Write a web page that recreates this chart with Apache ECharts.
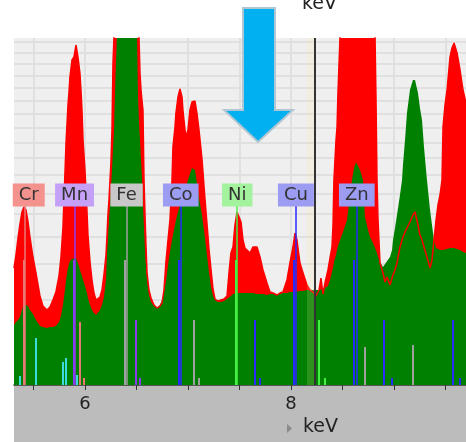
<!DOCTYPE html>
<html><head><meta charset="utf-8">
<script src="https://cdn.jsdelivr.net/npm/echarts@6/dist/echarts.min.js"></script>
<style>html,body{margin:0;padding:0;background:#fff}#c{width:466px;height:442px}</style>
</head><body><div id="c"></div>
<script>
// Energy axis (keV)
const energy = [
5.311,5.330,5.350,5.369,5.388,5.408,5.427,5.447,5.466,5.495,
5.524,5.563,5.592,5.631,5.660,5.689,5.718,5.748,5.767,5.786,
5.806,5.816,5.825,5.835,5.845,5.854,5.874,5.893,5.913,5.932,
5.951,5.961,5.971,5.981,6.000,6.019,6.029,6.049,6.068,6.087,
6.107,6.126,6.146,6.165,6.184,6.204,6.214,6.223,6.233,6.243,
6.252,6.262,6.272,6.282,6.291,6.301,6.311,6.359,6.408,6.456,
6.505,6.515,6.524,6.534,6.544,6.553,6.563,6.573,6.583,6.592,
6.602,6.621,6.641,6.670,6.699,6.728,6.748,6.767,6.786,6.806,
6.825,6.845,6.854,6.874,6.883,6.903,6.922,6.942,6.951,6.971,
6.981,7.000,7.019,7.039,7.049,7.068,7.087,7.107,7.136,7.165,
7.184,7.204,7.223,7.243,7.262,7.291,7.320,7.350,7.379,7.398,
7.417,7.437,7.456,7.476,7.495,7.515,7.534,7.553,7.573,7.602,
7.631,7.670,7.699,7.728,7.767,7.796,7.825,7.864,7.893,7.922,
7.961,7.990,8.019,8.039,8.058,8.087,8.117,8.155,8.184,8.214,
8.243,8.272,8.291,8.311,8.330,8.359,8.379,8.398,8.408,8.417,
8.437,8.447,8.456,8.476,8.505,8.544,8.573,8.592,8.612,8.631,
8.650,8.670,8.699,8.718,8.748,8.767,8.796,8.816,8.825,8.835,
8.845,8.864,8.893,8.913,8.932,8.961,8.981,8.990,9.010,9.029,
9.058,9.078,9.087,9.107,9.126,9.155,9.184,9.204,9.233,9.252,
9.272,9.291,9.320,9.350,9.369,9.388,9.408,9.427,9.447,9.466,
9.476,9.495,9.515,9.544,9.563,9.583,9.612,9.641,9.670,9.699
];
// Spectrum 1 (red), square-root of counts
const redSqrtCounts = [
117,130,147,161,173,178,175,163,148,128,
112,89,79,75,78,85,93,109,128,157,
213,242,260,280,293,308,325,328,340,328,
312,295,275,245,215,175,150,123,105,92,
85,84,88,95,110,130,150,170,185,205,
222,255,322,349,380,400,420,500,540,500,
420,385,350,312,295,285,275,205,170,140,
113,95,87,80,77,79,82,95,123,145,
165,205,238,258,272,288,296,288,275,255,
248,255,275,283,284,284,272,255,226,186,
162,136,116,96,86,84,85,86,89,112,
132,138,160,173,175,163,145,137,135,132,
138,138,128,115,102,93,92,90,92,93,
105,122,138,152,145,122,112,100,95,93,
89,95,107,91,102,115,127,138,160,205,
245,258,292,348,410,480,540,560,575,580,
575,560,530,500,460,420,380,348,288,205,
165,122,112,103,108,100,107,110,115,122,
138,145,148,153,157,163,170,173,160,150,
145,138,128,117,125,145,165,180,190,205,
258,280,295,328,337,342,332,315,295,282
];
// Spectrum 2 (green), square-root of counts
const greenSqrtCounts = [
60,63,65,68,75,81,81,79,75,71,
65,59,58,57,58,58,59,63,69,80,
95,105,111,117,121,124,126,128,127,122,
115,112,109,105,99,92,87,80,75,72,
70,71,75,80,88,105,132,148,165,180,
195,215,235,255,290,322,352,450,500,450,
352,288,265,245,225,208,180,157,135,120,
105,90,83,79,77,80,85,93,103,120,
133,145,150,160,165,173,180,187,191,196,
199,205,211,217,219,215,202,187,170,147,
130,113,98,89,85,83,83,84,86,88,
89,91,92,92,92,92,92,92,92,92,
92,91,91,91,90,91,91,90,91,92,
92,93,93,93,93,94,94,95,95,95,
95,95,95,96,97,99,105,113,117,123,
130,135,139,145,153,165,190,205,217,223,
221,215,205,168,155,148,142,137,135,132,
128,123,118,121,122,128,135,145,157,170,
190,205,220,245,272,295,305,305,292,277,
265,238,205,175,160,145,137,135,135,135,
135,135,136,137,137,137,136,135,133,132
];

// Element labels
const elementNames = ['Cr','Mn','Fe','Co','Ni','Cu','Zn'];
const elementKa    = [5.415,5.899,6.404,6.930,7.478,8.048,8.639];
const labelColors  = ['#f4928e','#c4a0f6','#c8c8c8','#9c9cf2','#a2f29e','#9c9cf2','#9c9cf2'];
const elementColor = {Cr:'#e87878',Mn:'#8c3cf0',Fe:'#a0a0a0',Co:'#2a2aff',Ni:'#44f044',Cu:'#2a2aff',Zn:'#2a2aff',X:'#3cdcdc'};

// Emission lines: energy (keV), height (sqrt counts), element
const lineEnergy  = [5.369,5.405,5.524,5.786,5.816,5.888,5.922,5.947,5.990,6.390,6.490,6.534,6.915,7.058,7.107,7.466,7.649,7.699,8.025,8.265,8.330,8.612,8.718,8.905,8.981,9.184,9.572,9.641];
const lineHeight  = [9,125,47,23,27,125,10,63,7,125,65,7,125,65,7,125,65,7,125,65,7,125,38,65,7,40,65,7];
const lineElement = ['X','Cr','X','X','X','Mn','X','Cr','Cr','Fe','Mn','Mn','Co','Fe','Fe','Ni','Co','Co','Cu','Ni','Ni','Zn','Fe','Cu','Cu','Fe','Zn','Zn'];

// Axis ticks
const tickValues  = [5.5,6,6.5,7,7.5,8,8.5,9,9.5];
const labelValues = [6,8];
const countGridStep = 7353;      // counts per horizontal grid line
const gridLineCount = 16;
const markerEnergy = 8.233;       // cursor line
const bandRange = [8.155, 8.223];
const labelHeight = 190;
const connectorTop = 179;

const chart = echarts.init(document.getElementById('c'));
const redData = energy.map((e,i)=>[e, redSqrtCounts[i]]);
const greenData = energy.map((e,i)=>[e, greenSqrtCounts[i]]);

const hGrid = [];
for (let n=1;n<=gridLineCount;n++) hGrid.push({yAxis: Math.sqrt(n*countGridStep)});
const vGrid = tickValues.map(v=>({xAxis:v}));

const emissionLines = lineEnergy.map((e,i)=>{
  const ls = {color: elementColor[lineElement[i]], width: 2, type:'solid'};
  return [{coord:[e,0], lineStyle:ls},{coord:[e,lineHeight[i]], lineStyle:ls}];
});
const connectors = elementKa.map((e,i)=>{
  const ls = {color: elementColor[elementNames[i]], width: 1.5, type:'solid'};
  return [{coord:[e,0], lineStyle:ls},{coord:[e,connectorTop], lineStyle:ls}];
});

const option = {
  animation:false,
  grid:{left:14,right:0,top:38,bottom:57,show:true,backgroundColor:'#efefef',borderWidth:0},
  xAxis:{type:'value',min:5.311,max:9.699,
    axisLine:{show:true,onZero:false,lineStyle:{color:'#222',width:1.5}},
    axisTick:{show:true,customValues:tickValues,length:5,inside:false,lineStyle:{color:'#333',width:1}},
    axisLabel:{customValues:labelValues,color:'#222',fontSize:18,margin:10,fontFamily:'DejaVu Sans'},
    splitLine:{show:false}},
  yAxis:{type:'value',min:0,max:347,show:false,splitLine:{show:false}},
  graphic:[
    {type:'rect',z:-1,shape:{x:14,y:386,width:452,height:56},style:{fill:'#bcbcbc'}},
    {type:'polygon',z:-1,shape:{points:[[287,424],[292,428.5],[287,433]]},style:{fill:'#8c8c8c'}},
    {type:'text',z:-1,style:{text:'keV',x:303,y:437,font:'19px DejaVu Sans',fill:'#222',textVerticalAlign:'bottom',verticalAlign:'bottom'}},
    {type:'text',z:100,style:{text:'keV',x:302,y:14,font:'19px DejaVu Sans',fill:'#222',textVerticalAlign:'bottom',verticalAlign:'bottom'}},
    {type:'polygon',z:100,shape:{points:[[243,8],[275,8],[275,110],[293,110],[258,142],[224,110],[243,110]]},
      style:{fill:'#00b0f0',stroke:'#b0c6d2',lineWidth:2}}
  ],
  series:[
    {type:'line',data:[],z:1,markLine:{silent:true,z:1,symbol:['none','none'],label:{show:false},animation:false,
      lineStyle:{color:'#e0e0e0',width:2,type:'solid'},data:hGrid.concat(vGrid)}},
    {type:'line',data:redData,z:2,symbol:'none',lineStyle:{width:0},areaStyle:{color:'#ff0000',opacity:1}},
    {type:'line',data:greenData,z:3,symbol:'none',lineStyle:{width:0},areaStyle:{color:'#008000',opacity:1}},
    {type:'line',data:redData,z:4,symbol:'none',lineStyle:{color:'#ff0000',width:1.5},
      markLine:{silent:true,z:6,symbol:['none','none'],label:{show:false},animation:false,data:emissionLines.concat(connectors)},
      markArea:{silent:true,z:7,itemStyle:{color:'rgba(250,228,155,0.18)'},data:[[{xAxis:bandRange[0]},{xAxis:bandRange[1]}]]}},
    {type:'line',data:[],z:8,markLine:{silent:true,z:8,symbol:['none','none'],label:{show:false},animation:false,
      lineStyle:{color:'#333',width:2,type:'solid'},data:[{xAxis:markerEnergy}]}},
    {type:'scatter',z:10,symbol:'rect',symbolSize:1,itemStyle:{color:'rgba(0,0,0,0)',opacity:1},
      emphasis:{disabled:true},
      data:elementKa.map((e,i)=>({value:[e,labelHeight],name:elementNames[i],
        label:{backgroundColor:labelColors[i],offset:i===0?[4,0]:[0,0]}})),
      label:{show:true,position:'inside',formatter:p=>p.name,color:'#333',fontSize:18,fontFamily:'DejaVu Sans',
        padding:[2,6,1,6],lineHeight:20,opacity:1}}
  ]
};
chart.setOption(option);
</script></body></html>
